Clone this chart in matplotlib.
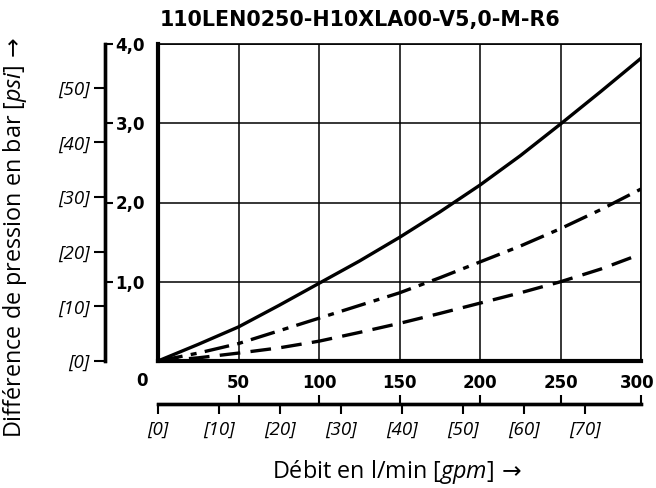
import numpy as np
import matplotlib
matplotlib.use("Agg")
import matplotlib.pyplot as plt
import matplotlib.transforms as mtransforms

# data
flow_lmin = [0, 25, 50, 75, 100, 125, 150, 175, 200, 225, 250, 275, 300]
dp_solid = [0, 0.21, 0.43, 0.70, 0.98, 1.26, 1.56, 1.88, 2.22, 2.59, 2.99, 3.40, 3.82]
dp_dashdot = [0, 0.10, 0.22, 0.38, 0.54, 0.70, 0.86, 1.05, 1.25, 1.45, 1.67, 1.91, 2.17]
dp_dashed = [0, 0.04, 0.10, 0.165, 0.25, 0.36, 0.475, 0.60, 0.73, 0.86, 1.00, 1.16, 1.35]

bar_ticks = [1, 2, 3, 4]
bar_labels = ["1,0", "2,0", "3,0", "4,0"]
psi_ticks = [0, 10, 20, 30, 40, 50]
lmin_ticks = [50, 100, 150, 200, 250, 300]
gpm_ticks = [0, 10, 20, 30, 40, 50, 60, 70]

title = "110LEN0250-H10XLA00-V5,0-M-R6"
BAR_TO_PSI = 14.5038
LMIN_TO_GPM = 1 / 3.78541

plt.rcParams["mathtext.fontset"] = "custom"
plt.rcParams["mathtext.it"] = "Open Sans:italic"
plt.rcParams["mathtext.rm"] = "Open Sans"
plt.rcParams["mathtext.sf"] = "DejaVu Sans"

W, H = 656, 488
fig = plt.figure(figsize=(W / 100, H / 100), dpi=100)

# plot area in pixels
L, R, T, B = 158, 641, 44, 361
rect = [L / W, 1 - B / H, (R - L) / W, (B - T) / H]

ax = fig.add_axes(rect, label="main")
ax.plot(flow_lmin, dp_solid, color="black", lw=2.4)
ax.plot(flow_lmin, dp_dashdot, color="black", lw=2.4, linestyle=(0, (7.5, 2.5, 1.8, 2.5)))
ax.plot(flow_lmin, dp_dashed, color="black", lw=2.4, linestyle=(0, (6.2, 3.1)))
ax.set_xlim(0, 300)
ax.set_ylim(0, 4)
ax.set_xticks(np.arange(0, 301, 50))
ax.set_yticks([0, 1, 2, 3, 4])
ax.tick_params(length=0, labelbottom=False, labelleft=False)
ax.grid(True, color="black", lw=1.1)
ax.spines["left"].set_linewidth(3)
ax.spines["bottom"].set_linewidth(3)
ax.spines["top"].set_linewidth(1.2)
ax.spines["right"].set_linewidth(1.2)

bold_font = dict(family="DejaVu Sans", fontweight="bold", fontsize=12)
ital_font = dict(family="Open Sans", style="italic", fontsize=13.5)

fig.text(160 / W, 1 - 20 / H, title, ha="left", va="center",
         family="DejaVu Sans", fontweight="bold", fontsize=14.9)

off_x = -(L - 105) / (R - L)
off_y = -(404 - B) / (B - T)


def blank_axes(name):
    a = fig.add_axes(rect, label=name)
    a.patch.set_visible(False)
    for s in a.spines.values():
        s.set_visible(False)
    return a


# bar axis (labels to the right of the spine)
ab = blank_axes("bar")
ab.set_ylim(0, 4)
ab.set_xticks([])
ab.spines["right"].set_visible(True)
ab.spines["right"].set_position(("axes", off_x))
ab.spines["right"].set_linewidth(2.4)
ab.yaxis.set_ticks_position("right")
ab.set_yticks(bar_ticks)
ab.set_yticklabels(bar_labels, **bold_font)
ab.tick_params(axis="y", direction="out", length=6, width=1.5, pad=1.5)

# psi axis (labels to the left)
ap = blank_axes("psi")
ap.set_ylim(0, 4 * BAR_TO_PSI)
ap.set_xticks([])
ap.spines["left"].set_visible(True)
ap.spines["left"].set_position(("axes", off_x))
ap.spines["left"].set_linewidth(2.4)
ap.set_yticks(psi_ticks)
ap.set_yticklabels([f"[{v}]" for v in psi_ticks], **ital_font)
ap.tick_params(axis="y", direction="out", length=8, width=1.5, pad=3)

# l/min axis (labels above the spine)
al = blank_axes("lmin")
al.set_xlim(0, 300)
al.set_yticks([])
al.spines["top"].set_visible(True)
al.spines["top"].set_position(("axes", off_y))
al.spines["top"].set_linewidth(2.4)
al.xaxis.set_ticks_position("top")
al.set_xticks(lmin_ticks)
al.set_xticklabels([str(v) for v in lmin_ticks], **bold_font)
al.tick_params(axis="x", direction="out", length=6.5, width=1.5, pad=2)
last = al.get_xticklabels()[-1]
last.set_transform(last.get_transform() + mtransforms.ScaledTranslation(-0.04, 0, fig.dpi_scale_trans))
fig.text(142 / W, 1 - 381 / H, "0", ha="center", va="center", **bold_font)

# gpm axis (labels below)
ag = blank_axes("gpm")
ag.set_xlim(0, 300 * LMIN_TO_GPM)
ag.set_yticks([])
ag.spines["bottom"].set_visible(True)
ag.spines["bottom"].set_position(("axes", off_y))
ag.spines["bottom"].set_linewidth(2.4)
ag.set_xticks(gpm_ticks)
ag.set_xticklabels([f"[{v}]" for v in gpm_ticks], **ital_font)
ag.tick_params(axis="x", direction="out", length=7, width=1.5, pad=5)

label_family = ["Open Sans", "DejaVu Sans"]
fig.text(397 / W, 1 - 472 / H, r"Débit en l/min $\mathit{[gpm]}\,\mathsf{\rightarrow}$",
         ha="center", va="center", family=label_family, fontsize=16.8)
fig.text(15 / W, 1 - 237 / H, r"Différence de pression en bar $\mathit{[psi]}\,\mathsf{\rightarrow}$",
         ha="center", va="center", rotation=90, family=label_family, fontsize=16.8)

fig.savefig("out.png", dpi=100)
